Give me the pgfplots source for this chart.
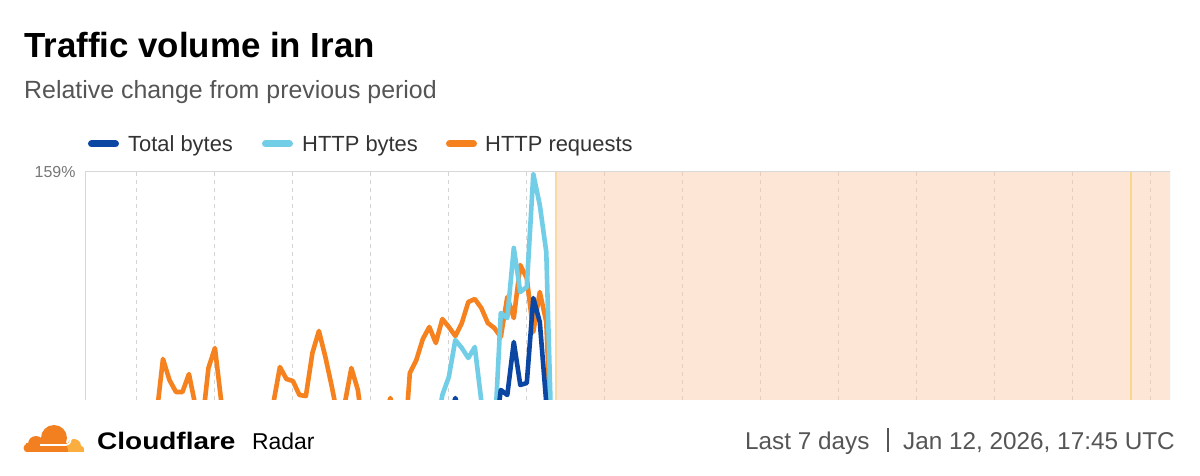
\documentclass[border=0pt]{standalone}
\usepackage{pgfplots}
\pgfplotsset{compat=1.18}
\usepackage{pgfplotstable}
\usepackage{fontspec}
\setmainfont{Liberation Sans}
\definecolor{tb}{HTML}{0B46A3}
\definecolor{hb}{HTML}{72CEE6}
\definecolor{hr}{HTML}{F6821F}
\definecolor{peachfill}{HTML}{FDE6D5}
\definecolor{shadeedge}{HTML}{F9D9A6}
\definecolor{yline}{HTML}{F8D78B}
\definecolor{gridgray}{HTML}{D3D3D3}
\definecolor{gridpeach}{HTML}{E2CFC2}
\definecolor{framegray}{HTML}{D8D8D8}
\definecolor{subgray}{HTML}{555555}
\definecolor{leggray}{HTML}{333333}
\definecolor{tickgray}{HTML}{777777}
\definecolor{cfdark}{HTML}{F38020}
\definecolor{cflight}{HTML}{FAAE40}

\pgfplotstableread{
h v
0 -110
1 -105
2 -112
3 -108
4 -115
5 -110
6 -106
7 -112
8 -110
9 -104
10 -100
11 -85
12 -28
13 -49
14 -61
15 -61
16 -43
17 -75
18 -96
19 -37
20 -17
21 -72
22 -100
23 -110
24 -105
25 -112
26 -108
27 -104
28 -100
29 -72
30 -36
31 -48
32 -50
33 -64
34 -65
35 -22
36 0
37 -26
38 -56
39 -89
40 -72
41 -37
42 -59
43 -109
44 -100
45 -95
46 -90
47 -67
48 -95
49 -130
50 -42
51 -29
52 -8
53 4
54 -12
55 12
56 4
57 -5
58 8
59 29
60 32
61 23
62 8
63 3
64 -6
65 34
66 13
67 66
68 53
69 -1
70 39
71 9
72 -147
}\httpreq

\pgfplotstableread{
h v
0 -110
10 -112
20 -108
30 -115
40 -110
50 -112
53 -108
54 -103
55 -64
56 -46
57 -9
58 -17
59 -27
60 -16
61 -70
62 -110
63 -110
64 18
65 13
66 83
67 39
68 44
69 157
70 126
71 79
72 -152
}\httpbytes

\pgfplotstableread{
h v
0 -115
10 -118
20 -115
30 -120
40 -116
50 -118
55 -115
56 -90
57 -67
58 -90
59 -110
60 -112
61 -115
62 -112
63 -110
64 -59
65 -64
66 -11
67 -54
68 -52
69 33
70 9
71 -72
72 -150
}\totalbytes

\begin{document}
\begin{tikzpicture}
\fill[white] (0bp,0bp) rectangle (1200bp,476bp);
\useasboundingbox (0bp,0bp) rectangle (1200bp,476bp);

% title and subtitle
\node[anchor=base west, inner sep=0] at (24bp,418bp) {\fontsize{35}{35}\selectfont\bfseries Traffic volume in Iran};
\node[anchor=base west, inner sep=0, text=subgray] at (24bp,377bp) {\fontsize{25}{25}\selectfont Relative change from previous period};

% legend
\draw[tb, line width=7bp, line cap=round] (91.5bp,332bp) -- (115.5bp,332bp);
\node[anchor=base west, inner sep=0, text=leggray] at (128bp,324bp) {\fontsize{22}{22}\selectfont Total bytes};
\draw[hb, line width=7bp, line cap=round] (265.5bp,332bp) -- (289.5bp,332bp);
\node[anchor=base west, inner sep=0, text=leggray] at (302bp,324bp) {\fontsize{22}{22}\selectfont HTTP bytes};
\draw[hr, line width=7bp, line cap=round] (449.5bp,332bp) -- (473.5bp,332bp);
\node[anchor=base west, inner sep=0, text=leggray] at (485bp,324bp) {\fontsize{22}{22}\selectfont HTTP requests};

\begin{axis}[
  at={(85bp,76bp)}, anchor=south west,
  scale only axis, width=1085bp, height=228bp,
  xmin=0, xmax=167, ymin=-69, ymax=159,
  axis line style={draw=none},
  xtick={8,20,...,164}, xticklabels={},
  xmajorgrids,
  grid style={gridgray, line width=1bp, dash pattern=on 4bp off 4bp},
  ytick={159}, yticklabels={159\%},
  major tick length=0pt,
  yticklabel style={font=\fontsize{16}{16}\selectfont, text=tickgray, xshift=-6bp},
  clip=true,
]
\fill[peachfill] (axis cs:72.5,-69) rectangle (axis cs:167,159);
\foreach \g in {80,92,...,164} {
  \edef\tmp{\noexpand\draw[gridpeach, line width=1bp, dash pattern=on 4bp off 4bp] (axis cs:\g,-69) -- (axis cs:\g,159);}
  \tmp
}
\draw[shadeedge, line width=1.5bp] (axis cs:72.5,-69) -- (axis cs:72.5,159);
\draw[yline, line width=2bp] (axis cs:161,-69) -- (axis cs:161,159);
\addplot[hr, line width=4.6bp, line join=round] table[x=h, y=v] {\httpreq};
\addplot[hb, line width=4.6bp, line join=round] table[x=h, y=v] {\httpbytes};
\addplot[tb, line width=4.6bp, line join=round] table[x=h, y=v] {\totalbytes};
\draw[framegray, line width=1bp] (rel axis cs:0,0) -- (rel axis cs:0,1) -- (rel axis cs:1,1) -- (rel axis cs:1,0);
\end{axis}

% footer logo
\begin{scope}
\clip (0bp,24bp) rectangle (100bp,60bp);
\fill[cfdark] (54bp,38bp) circle (13bp);
\fill[cfdark] (36bp,32bp) circle (8bp);
\fill[cfdark] (26bp,24bp) rectangle (68bp,33bp);
\fill[cfdark] (28bp,28bp) circle (4.5bp);
\fill[cflight] (74bp,30bp) circle (7bp);
\fill[cflight] (68bp,24bp) rectangle (81bp,30bp);
\fill[cflight] (81bp,27bp) circle (3bp);
\fill[cflight] (78bp,24bp) rectangle (84bp,27bp);
\draw[white, line width=1.6bp] (40bp,31bp) -- (66bp,31bp) .. controls (69bp,31bp) and (70bp,33bp) .. (71bp,37bp);
\end{scope}
\node[anchor=base west, inner sep=0] at (97bp,27bp) {\fontsize{24}{24}\selectfont\scalebox{1.17}[1]{\bfseries Cloudflare}};
\node[anchor=base west, inner sep=0] at (252bp,27bp) {\fontsize{23}{23}\selectfont Radar};

\node[anchor=base west, inner sep=0, text=subgray] at (745bp,27bp) {\fontsize{24.4}{24.4}\selectfont Last 7 days};
\draw[subgray, line width=1.5bp] (888bp,24bp) -- (888bp,48bp);
\node[anchor=base east, inner sep=0, text=subgray] at (1175bp,27bp) {\fontsize{24.4}{24.4}\selectfont Jan 12, 2026, 17:45 UTC};
\end{tikzpicture}
\end{document}
